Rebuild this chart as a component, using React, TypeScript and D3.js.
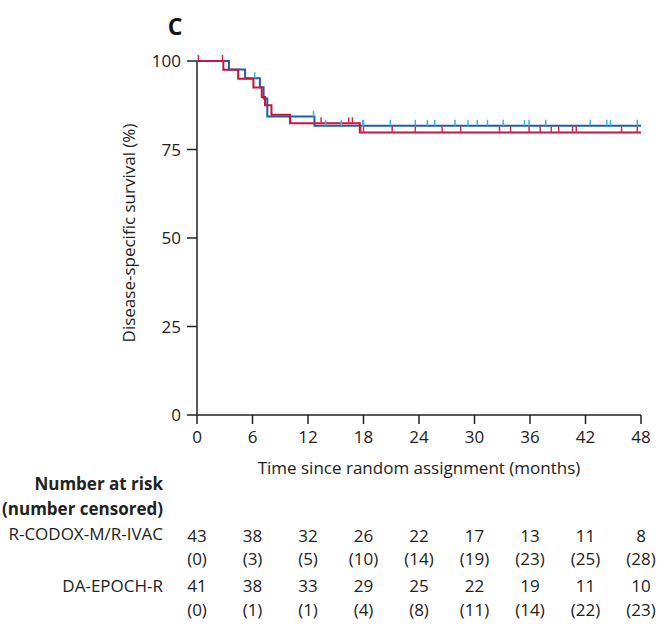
import React from "react";
import * as d3 from "d3";

const timeTicks = [0, 6, 12, 18, 24, 30, 36, 42, 48];
const survTicks = [0, 25, 50, 75, 100];

// R-CODOX-M/R-IVAC step curve (time of drop, survival after drop)
const codoxTimes = [0, 2.85, 4.45, 6.1, 7.0, 7.35, 8.05, 10.05, 17.6, 48];
const codoxSurv = [100, 97.5, 95.0, 92.5, 89.8, 87.5, 84.8, 82.4, 79.8, 79.8];
const codoxCensor = [0.15, 2.75, 13.4, 16.4, 16.8, 17.7, 18.0, 21.1, 23.6, 26.5, 28.5, 32.7, 33.9, 35.9, 37.1, 38.3, 39.1, 40.6, 41.0, 45.9, 47.6];

// DA-EPOCH-R step curve
const epochTimes = [0, 3.45, 5.2, 6.8, 7.2, 7.6, 12.7, 48];
const epochSurv = [100, 97.6, 95.1, 92.6, 89.4, 84.3, 81.7, 81.7];
const epochCensor = [6.25, 12.6, 13.9, 15.6, 17.9, 18.0, 20.9, 23.6, 24.9, 25.7, 27.9, 29.3, 30.3, 31.4, 33.1, 35.4, 35.9, 37.7, 42.5, 44.3, 44.7, 47.6];

const codoxAtRisk = [43, 38, 32, 26, 22, 17, 13, 11, 8];
const codoxCensored = [0, 3, 5, 10, 14, 19, 23, 25, 28];
const epochAtRisk = [41, 38, 33, 29, 25, 22, 19, 11, 10];
const epochCensored = [0, 1, 1, 4, 8, 11, 14, 22, 23];

const RED = "#c8143f";
const RED_C = "#e0284a";
const BLUE = "#1f5ea8";
const BLUE_C = "#3ab4e6";
const FONT = "'Open Sans', sans-serif";

export default function App() {
  const x = d3.scaleLinear().domain([0, 48]).range([197, 641]);
  const y = d3.scaleLinear().domain([0, 100]).range([415, 61]);

  const line = d3
    .line<[number, number]>()
    .x((d) => x(d[0]))
    .y((d) => y(d[1]))
    .curve(d3.curveStepAfter);

  const survAt = (times: number[], surv: number[], t: number) => {
    let s = surv[0];
    for (let i = 0; i < times.length; i++) if (times[i] <= t) s = surv[i];
    return s;
  };

  const codoxPts = codoxTimes.map((t, i) => [t, codoxSurv[i]] as [number, number]);
  const epochPts = epochTimes.map((t, i) => [t, epochSurv[i]] as [number, number]);

  const rows = [
    { y: 542, vals: codoxAtRisk, paren: false },
    { y: 565, vals: codoxCensored, paren: true },
    { y: 592, vals: epochAtRisk, paren: false },
    { y: 616, vals: epochCensored, paren: true },
  ];

  return (
    <svg
      width={664}
      height={630}
      style={{ position: "absolute", left: 0, top: 0, background: "#fff" }}
      fontFamily={FONT}
    >
      <text x={175} y={35} fontSize={23} fontWeight={700} textAnchor="middle" fill="#111">
        C
      </text>

      {/* y axis */}
      <line x1={x(0)} x2={x(0)} y1={y(100)} y2={y(0)} stroke="#222" strokeWidth={1.5} />
      {survTicks.map((v) => (
        <g key={v}>
          <line x1={x(0) - 10} x2={x(0)} y1={y(v)} y2={y(v)} stroke="#222" strokeWidth={1.5} />
          <text x={181} y={y(v) + 6} fontSize={17} textAnchor="end" fill="#222">
            {v}
          </text>
        </g>
      ))}
      <text
        transform={`translate(135,${(y(0) + y(100)) / 2 - 5}) rotate(-90)`}
        fontSize={17}
        textAnchor="middle"
        fill="#222"
      >
        Disease-specific survival (%)
      </text>

      {/* x axis */}
      <line x1={x(0)} x2={x(48)} y1={y(0)} y2={y(0)} stroke="#222" strokeWidth={1.5} />
      {timeTicks.map((t) => (
        <g key={t}>
          <line x1={x(t)} x2={x(t)} y1={y(0)} y2={y(0) + 9} stroke="#222" strokeWidth={1.5} />
          <text x={x(t)} y={443} fontSize={17} textAnchor="middle" fill="#222">
            {t}
          </text>
        </g>
      ))}
      <text x={419} y={474} fontSize={17} textAnchor="middle" fill="#222">
        Time since random assignment (months)
      </text>

      {/* curves */}
      <path d={line(epochPts) || ""} fill="none" stroke={BLUE} strokeWidth={2} />
      <path d={line(codoxPts) || ""} fill="none" stroke={RED} strokeWidth={2} />

      {epochCensor.map((t, i) => {
        const s = survAt(epochTimes, epochSurv, t);
        return (
          <line key={"e" + i} x1={x(t)} x2={x(t)} y1={y(s)} y2={y(s) - 6} stroke={BLUE_C} strokeWidth={1.5} />
        );
      })}
      {codoxCensor.map((t, i) => {
        const s = survAt(codoxTimes, codoxSurv, t);
        return (
          <line key={"c" + i} x1={x(t)} x2={x(t)} y1={y(s)} y2={y(s) - 6} stroke={RED_C} strokeWidth={1.5} />
        );
      })}

      {/* number at risk table */}
      <text x={163} y={490} fontSize={17} fontWeight={700} textAnchor="end" fill="#222">
        Number at risk
      </text>
      <text x={163} y={515} fontSize={17} fontWeight={700} textAnchor="end" fill="#222">
        (number censored)
      </text>
      <text x={163} y={540} fontSize={17} textAnchor="end" fill="#222">
        R-CODOX-M/R-IVAC
      </text>
      <text x={163} y={592} fontSize={17} textAnchor="end" fill="#222">
        DA-EPOCH-R
      </text>
      {rows.map((r, ri) =>
        r.vals.map((v, i) => (
          <text key={ri + "-" + i} x={x(timeTicks[i])} y={r.y} fontSize={17} textAnchor="middle" fill="#222">
            {r.paren ? `(${v})` : v}
          </text>
        ))
      )}
    </svg>
  );
}
